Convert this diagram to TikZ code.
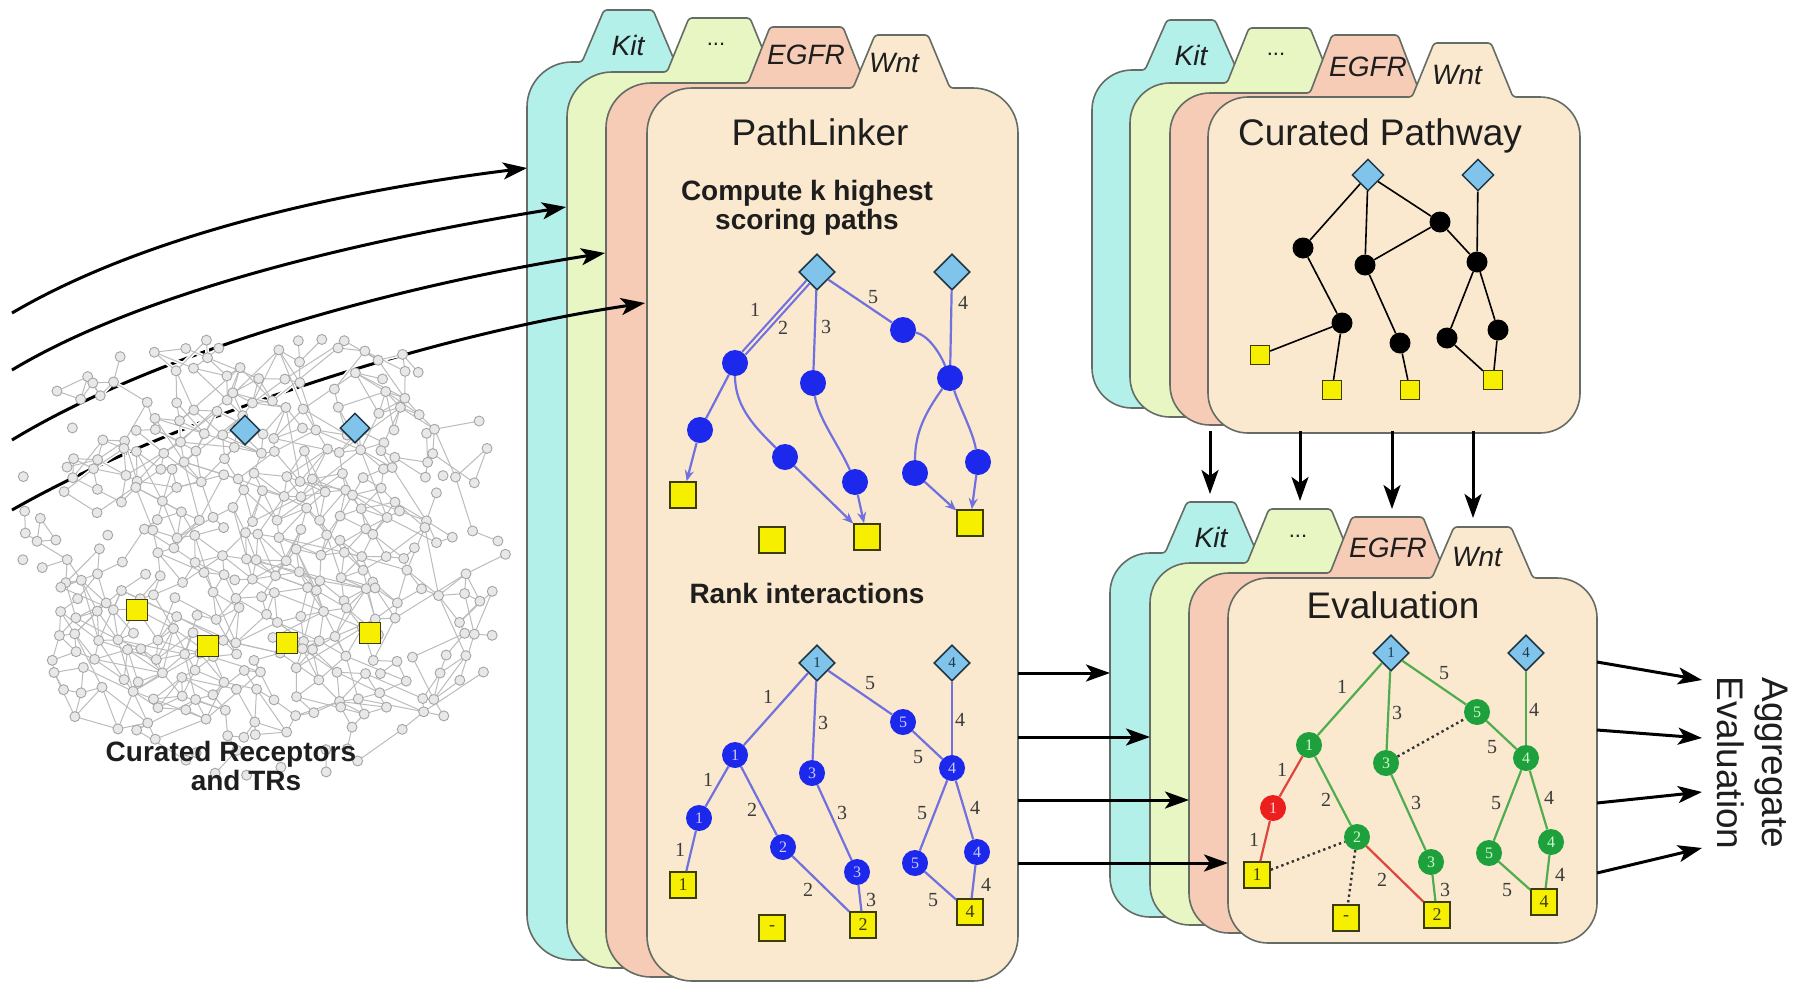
\documentclass[tikz,border=0pt]{standalone}
\usepackage{fontspec}
\setmainfont{Liberation Sans}
\newfontfamily\numfont{Liberation Serif}
\usetikzlibrary{shapes.geometric,arrows.meta}

\definecolor{cyanF}{RGB}{180,240,234}
\definecolor{limeF}{RGB}{232,246,196}
\definecolor{salmonF}{RGB}{246,204,182}
\definecolor{creamF}{RGB}{250,233,206}
\definecolor{cardLine}{RGB}{100,108,100}
\definecolor{pathBlue}{RGB}{28,40,235}
\definecolor{edgeLav}{RGB}{112,112,222}
\definecolor{diamFill}{RGB}{128,196,236}
\definecolor{diamLine}{RGB}{30,55,70}
\definecolor{sqFill}{RGB}{246,240,0}
\definecolor{sqLine}{RGB}{60,60,10}
\definecolor{evalGreen}{RGB}{30,160,60}
\definecolor{evalEdge}{RGB}{80,172,80}
\definecolor{evalRed}{RGB}{236,30,30}
\definecolor{redEdge}{RGB}{222,70,60}
\definecolor{netLine}{RGB}{188,188,188}
\definecolor{netNode}{RGB}{165,165,165}
\definecolor{netFill}{RGB}{232,232,232}
\definecolor{labGray}{RGB}{60,60,60}
\definecolor{ink}{RGB}{30,30,30}

\newcount\netlinkcount

% folder card: fill, left, top, right, bottom, tab left, tab right, tab top, corner radius
\newcommand\card[9]{%
  \draw[cardline,fill=#1] (#2,{(#3+#5)/2}) [rounded corners=#9pt] -- (#2,#3)
    [rounded corners=3pt] -- (#6,#3) -- ({#6+22},#8) -- ({#7-22},#8) -- (#7,#3)
    [rounded corners=#9pt] -- (#4,#3) -- (#4,#5) -- (#2,#5) -- cycle;}

% ranked interaction graph: prefix, node style, style of the left chain nodes, edge style, style of the left chain edges
\newcommand\rankgraph[5]{%
  \node[diam] (#1D1) at (817,663) {1};
  \node[diam] (#1D4) at (952,663) {4};
  \node[#2] (#1a1) at (735,755) {1};
  \node[#3] (#1a2) at (699,818) {1};
  \node[sq] (#1s1) at (683,885) {1};
  \node[#2] (#1b) at (783,847) {2};
  \node[#2] (#1c1) at (812,773) {3};
  \node[#2] (#1c2) at (857,872) {3};
  \node[sq] (#1s2) at (863,925) {2};
  \node[sq] (#1sm) at (772,928) {-};
  \node[#2] (#1d1) at (903,722) {5};
  \node[#2] (#1e) at (952,768) {4};
  \node[#2] (#1d2) at (915,863) {5};
  \node[#2] (#1f) at (977,852) {4};
  \node[sq] (#1s4) at (970,912) {4};
  \draw[#4] (#1D1) -- (#1a1);
  \draw[#5] (#1a1) -- (#1a2);
  \draw[#5] (#1a2) -- (#1s1);
  \draw[#4] (#1a1) -- (#1b);
  \draw[#5] (#1b) -- (#1s2);
  \draw[#4] (#1D1) -- (#1c1);
  \draw[#4] (#1c1) -- (#1c2);
  \draw[#4] (#1c2) -- (#1s2);
  \draw[#4] (#1D1) -- (#1d1);
  \draw[#4] (#1d1) -- (#1e);
  \draw[#4] (#1D4) -- (#1e);
  \draw[#4] (#1e) -- (#1d2);
  \draw[#4] (#1e) -- (#1f);
  \draw[#4] (#1d2) -- (#1s4);
  \draw[#4] (#1f) -- (#1s4);
  \node[elab] (#1l1) at (768,697) {1};
  \node[elab] (#1l2) at (708,780) {1};
  \node[elab] (#1l3) at (680,850) {1};
  \node[elab] (#1l4) at (752,810) {2};
  \node[elab] (#1l5) at (808,890) {2};
  \node[elab] (#1l6) at (823,723) {3};
  \node[elab] (#1l7) at (842,813) {3};
  \node[elab] (#1l8) at (871,900) {3};
  \node[elab] (#1l9) at (870,683) {5};
  \node[elab] (#1l10) at (918,757) {5};
  \node[elab] (#1l11) at (960,720) {4};
  \node[elab] (#1l12) at (922,813) {5};
  \node[elab] (#1l13) at (975,808) {4};
  \node[elab] (#1l14) at (933,900) {5};
  \node[elab] (#1l15) at (986,885) {4};
}

\begin{document}
\begin{tikzpicture}[x=1pt,y=-1pt,
  cardline/.style={draw=cardLine,line width=1.6pt},
  tabtext/.style={font=\fontsize{28}{30}\selectfont\itshape,text=ink,inner sep=0pt},
  title/.style={font=\fontsize{37}{40}\selectfont,text=ink,anchor=base,inner sep=0pt},
  boldtext/.style={font=\fontsize{28}{30}\selectfont\bfseries,text=ink,anchor=base,inner sep=0pt},
  bigarrow/.style={draw=black,line width=3pt,-{Stealth[length=24pt,width=17pt,inset=6pt]}},
  diam/.style={diamond,draw=diamLine,fill=diamFill,line width=1.6pt,minimum width=36pt,minimum height=36pt,inner sep=0pt,font=\numfont\fontsize{15}{15}\selectfont,text=diamLine},
  sq/.style={rectangle,draw=sqLine,fill=sqFill,line width=1.6pt,minimum size=26pt,inner sep=0pt,font=\numfont\fontsize{18}{18}\selectfont,text=sqLine},
  bnode/.style={circle,fill=pathBlue,minimum size=26pt,inner sep=0pt,font=\numfont\fontsize{16}{16}\selectfont,text=blue!20!white},
  gnode/.style={circle,fill=evalGreen,minimum size=26pt,inner sep=0pt,font=\numfont\fontsize{16}{16}\selectfont,text=green!20!white},
  rnode/.style={circle,fill=evalRed,minimum size=26pt,inner sep=0pt,font=\numfont\fontsize{16}{16}\selectfont,text=red!15!white},
  pedge/.style={draw=edgeLav,line width=2.2pt},
  parrow/.style={pedge,-{Stealth[length=11pt,width=9pt]}},
  gedge/.style={draw=evalEdge,line width=2.2pt},
  redge/.style={draw=redEdge,line width=2.2pt},
  dotedge/.style={draw=black!80,line width=2.4pt,dash pattern=on 2.4pt off 3.2pt},
  elab/.style={font=\numfont\fontsize{20}{20}\selectfont,text=labGray,inner sep=0pt},
  cdiam/.style={diamond,draw=diamLine,fill=diamFill,line width=1.4pt,minimum width=32pt,minimum height=32pt,inner sep=0pt},
  csq/.style={rectangle,draw=sqLine,fill=sqFill,line width=1.4pt,minimum size=19pt,inner sep=0pt},
  cnode/.style={circle,fill=black,minimum size=21pt,inner sep=0pt},
  cedge/.style={draw=black,line width=1.6pt},
  netnode/.style={circle,draw=netNode,fill=netFill,line width=0.9pt,minimum size=10pt,inner sep=0pt},
  netline/.style={draw=netLine,line width=1pt},
  nethalo/.style={draw=white,line width=4pt},
  ndiam/.style={diamond,draw=diamLine,fill=diamFill,line width=1.5pt,minimum width=30pt,minimum height=30pt,inner sep=0pt},
  nsq/.style={rectangle,draw=sqLine,fill=sqFill,line width=1.5pt,minimum size=21pt,inner sep=0pt}]

\fill[white] (0,0) rectangle (1800,983);
\useasboundingbox (0,0) rectangle (1800,983);

%% ---------------- PathLinker stack ----------------
\card{cyanF}{527}{62}{740}{960}{582}{675}{10}{45}
\card{limeF}{567}{72}{820}{968}{667}{772}{18}{45}
\card{salmonF}{606}{83}{912}{977}{748}{865}{27}{45}
\card{creamF}{647}{88}{1018}{981}{853}{950}{35}{45}
\node[tabtext] (plKit) at (628,45) {Kit};
\node[tabtext,font=\fontsize{22}{22}\selectfont] (plDots) at (716,44) {...};
\node[tabtext] (plEgfr) at (806,55) {EGFR};
\node[tabtext] (plWnt) at (894,63) {Wnt};
\node[title] (plTitle) at (820,145) {PathLinker};
\node[boldtext] (plSub1) at (807,200) {Compute k highest};
\node[boldtext] (plSub2) at (807,229) {scoring paths};
\node[boldtext] (plRank) at (807,603) {Rank interactions};

% k highest scoring paths
\node[diam] (kD1) at (817,272) {};
\node[diam] (kD2) at (952,272) {};
\node[bnode] (k1) at (735,363) {};
\node[bnode] (k2) at (813,383) {};
\node[bnode] (k3) at (903,330) {};
\node[bnode] (k4) at (950,378) {};
\node[bnode] (k5) at (700,430) {};
\node[bnode] (k6) at (785,457) {};
\node[bnode] (k7) at (855,482) {};
\node[bnode] (k8) at (915,473) {};
\node[bnode] (k9) at (978,462) {};
\node[sq] (kA) at (683,495) {};
\node[sq] (kB) at (772,540) {};
\node[sq] (kC) at (867,537) {};
\node[sq] (kD) at (970,523) {};
\draw[pedge,line width=2.2pt,double=creamF,double distance=2pt] (kD1) -- (k1);
\draw[pedge] (kD1) -- (k2);
\draw[pedge] (kD1) -- (k3);
\draw[pedge] (k3) .. controls +(25,5) and +(-10,-25) .. (k4);
\draw[pedge] (kD2) -- (k4);
\draw[pedge] (k1) -- (k5);
\draw[parrow] (k5) -- (kA);
\draw[pedge] (k1) .. controls +(0,45) and +(-28,-28) .. (k6);
\draw[parrow] (k6) -- (kC);
\draw[pedge] (k2) .. controls +(5,35) and +(-15,-35) .. (k7);
\draw[parrow] (k7) -- (kC);
\draw[pedge] (k4) .. controls +(-25,35) and +(0,-40) .. (k8);
\draw[parrow] (k8) -- (kD);
\draw[pedge] (k4) .. controls +(10,30) and +(-5,-30) .. (k9);
\draw[parrow] (k9) -- (kD);
\node[elab] (kl1) at (755,310) {1};
\node[elab] (kl2) at (783,328) {2};
\node[elab] (kl3) at (826,327) {3};
\node[elab] (kl5) at (873,297) {5};
\node[elab] (kl4) at (963,303) {4};

% ranked interactions
\rankgraph{r}{bnode}{bnode}{pedge}{pedge}

%% ---------------- Curated Pathway stack ----------------
\card{cyanF}{1092}{70}{1280}{408}{1145}{1237}{20}{40}
\card{limeF}{1130}{83}{1375}{417}{1227}{1332}{28}{40}
\card{salmonF}{1170}{93}{1462}{425}{1310}{1420}{35}{40}
\card{creamF}{1208}{97}{1580}{433}{1412}{1513}{43}{40}
\node[tabtext] (cpKit) at (1191,55) {Kit};
\node[tabtext,font=\fontsize{22}{22}\selectfont] (cpDots) at (1276,54) {...};
\node[tabtext] (cpEgfr) at (1368,67) {EGFR};
\node[tabtext] (cpWnt) at (1457,75) {Wnt};
\node[title] (cpTitle) at (1380,145) {Curated Pathway};

\node[cdiam] (pD1) at (1368,175) {};
\node[cdiam] (pD2) at (1478,175) {};
\node[cnode] (p1) at (1303,248) {};
\node[cnode] (p2) at (1365,265) {};
\node[cnode] (p3) at (1440,222) {};
\node[cnode] (p4) at (1477,262) {};
\node[cnode] (p5) at (1342,323) {};
\node[cnode] (p6) at (1400,343) {};
\node[cnode] (p7) at (1447,338) {};
\node[cnode] (p8) at (1498,330) {};
\node[csq] (ps1) at (1260,355) {};
\node[csq] (ps2) at (1332,390) {};
\node[csq] (ps3) at (1410,390) {};
\node[csq] (ps4) at (1493,380) {};
\foreach \a/\b in {pD1/p1,pD1/p2,pD1/p3,p3/p2,p3/p4,pD2/p4,p1/p5,p5/ps1,p5/ps2,p2/p6,p6/ps3,p4/p7,p4/p8,p7/ps4,p8/ps4}
  \draw[cedge] (\a) -- (\b);

%% ---------------- Evaluation stack ----------------
\card{cyanF}{1110}{553}{1300}{917}{1165}{1257}{502}{40}
\card{limeF}{1150}{563}{1396}{925}{1247}{1353}{509}{40}
\card{salmonF}{1189}{573}{1488}{933}{1330}{1445}{517}{40}
\card{creamF}{1228}{578}{1597}{943}{1432}{1533}{527}{40}
\node[tabtext] (evKit) at (1211,537) {Kit};
\node[tabtext,font=\fontsize{22}{22}\selectfont] (evDots) at (1298,536) {...};
\node[tabtext] (evEgfr) at (1388,548) {EGFR};
\node[tabtext] (evWnt) at (1477,557) {Wnt};
\node[title] (evTitle) at (1393,618) {Evaluation};

\begin{scope}[shift={(574,-10)}]
  \rankgraph{e}{gnode}{rnode}{gedge}{redge}
\end{scope}
\draw[dotedge] (ec1) -- (ed1);
\draw[dotedge] (es1) -- (eb);
\draw[dotedge] (eb) -- (esm);

%% ---------------- connectors between the stacks ----------------
\foreach \x/\y in {1210/494,1300/501,1392/509,1473/518}{
  \coordinate (dTop-\x) at (\x,431);
  \coordinate (dEnd-\x) at (\x,\y);
  \draw[bigarrow] (dTop-\x) -- (dEnd-\x);
}
\foreach \y/\x in {673/1110,737/1150,800/1189,863/1228}{
  \coordinate (hStart-\y) at (1018,\y);
  \coordinate (hEnd-\y) at (\x,\y);
  \draw[bigarrow] (hStart-\y) -- (hEnd-\y);
}
\foreach \ya/\yb in {662/680,730/738,803/792,873/848}{
  \coordinate (aStart-\ya) at (1597,\ya);
  \coordinate (aEnd-\ya) at (1702,\yb);
  \draw[bigarrow] (aStart-\ya) -- (aEnd-\ya);
}
\node[title,anchor=center,rotate=-90,align=center,font=\fontsize{37}{45}\selectfont] (agg) at (1753,763) {Aggregate\\Evaluation};

%% ---------------- interactome into PathLinker ----------------
\coordinate (s1) at (12,313);  \coordinate (t1) at (527,168);
\coordinate (s2) at (12,370);  \coordinate (t2) at (566,207);
\coordinate (s3) at (12,440);  \coordinate (t3) at (605,253);
\coordinate (s4) at (12,510);  \coordinate (t4) at (645,303);
\draw[bigarrow] (s1) .. controls (150,232) and (350,190) .. (t1);
\draw[bigarrow] (s2) .. controls (150,287) and (380,237) .. (t2);
\draw[bigarrow] (s3) .. controls (160,350) and (400,285) .. (t3);
\draw[bigarrow] (s4) .. controls (170,420) and (430,335) .. (t4);

% background interactome: jittered lattice inside a rounded blob, denser in the middle
\pgfmathsetseed{31}
\foreach \i in {0,...,24}{%
  \foreach \j in {0,...,22}{%
    \pgfmathsetmacro\gx{20+\i*20+(rnd-0.5)*16}%
    \pgfmathsetmacro\gy{335+\j*20+(rnd-0.5)*16}%
    \pgfmathsetmacro\gn{(abs((\gx-258)/250)+0.001)^2.6+(abs((\gy-552)/225)+0.001)^2.6}%
    \pgfmathsetmacro\keep{(\gn<1)*(rnd>0.04+0.5*\gn)}%
    \ifdim\keep pt>0.5pt
      \expandafter\xdef\csname nk@\i @\j\endcsname{1}%
      \coordinate (g-\i-\j) at (\gx,\gy);
    \fi
  }%
}
\global\netlinkcount=0
\foreach \i in {0,...,24}{%
  \foreach \j in {0,...,22}{%
    \ifcsname nk@\i @\j\endcsname
      \foreach \di/\dj/\pr in {1/0/0.62,0/1/0.62,1/1/0.4,-1/1/0.4,2/1/0.22,1/2/0.22,-2/1/0.14,-1/2/0.14,3/1/0.08,1/3/0.06,-3/2/0.05}{%
        \pgfmathtruncatemacro\ti{\i+\di}%
        \pgfmathtruncatemacro\tj{\j+\dj}%
        \ifcsname nk@\ti @\tj\endcsname
          \pgfmathsetmacro\roll{rnd}%
          \ifdim\roll pt<\pr pt
            \global\advance\netlinkcount by 1
            \expandafter\xdef\csname xlink@\the\netlinkcount\endcsname{\i-\j}%
            \expandafter\xdef\csname ylink@\the\netlinkcount\endcsname{\ti-\tj}%
          \fi
        \fi
      }%
    \fi
  }%
}
\xdef\nlinks{\the\netlinkcount}
\foreach \k in {1,...,\nlinks}
  \draw[nethalo] (g-\csname xlink@\k\endcsname) -- (g-\csname ylink@\k\endcsname);
\foreach \k in {1,...,\nlinks}
  \draw[netline] (g-\csname xlink@\k\endcsname) -- (g-\csname ylink@\k\endcsname);
\foreach \i in {0,...,24}{%
  \foreach \j in {0,...,22}{%
    \ifcsname nk@\i @\j\endcsname
      \node[netnode] (gn-\i-\j) at (g-\i-\j) {};
    \fi
  }%
}
\node[ndiam] (nD1) at (245,430) {};
\node[ndiam] (nD2) at (355,428) {};
\node[nsq] (nS1) at (137,610) {};
\node[nsq] (nS2) at (208,646) {};
\node[nsq] (nS3) at (287,643) {};
\node[nsq] (nS4) at (370,633) {};
\node[boldtext] (netLab1) at (231,761) {Curated Receptors};
\node[boldtext] (netLab2) at (246,790) {and TRs};

\end{tikzpicture}
\end{document}
